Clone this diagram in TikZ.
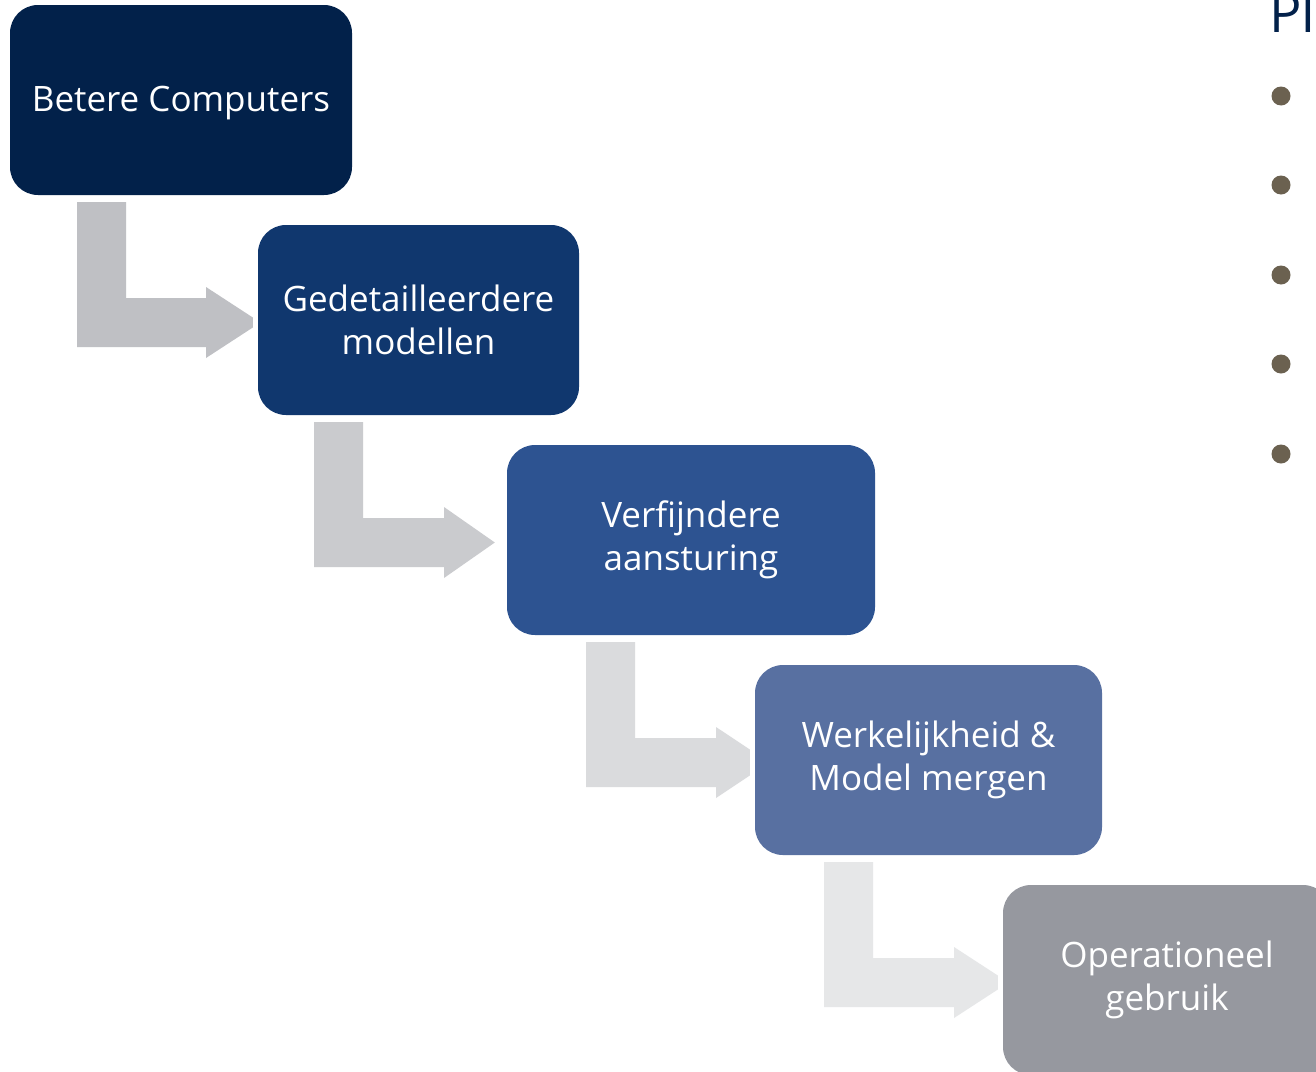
\documentclass[tikz,border=0pt]{standalone}
\usepackage{fontspec}
\setmainfont{Open Sans}
\usetikzlibrary{calc}

\definecolor{boxA}{HTML}{02214A}
\definecolor{boxB}{HTML}{10376E}
\definecolor{boxC}{HTML}{2D5391}
\definecolor{boxD}{HTML}{5870A1}
\definecolor{boxE}{HTML}{96989F}
\definecolor{flowA}{HTML}{BFC0C4}
\definecolor{flowB}{HTML}{CACBCE}
\definecolor{flowC}{HTML}{DADBDD}
\definecolor{flowD}{HTML}{E6E7E8}
\definecolor{dotcol}{HTML}{6B6150}
\definecolor{headcol}{HTML}{02214A}

\tikzset{
  stepbox/.style={rounded corners=28pt, minimum height=190pt, inner sep=0pt,
    text=white, align=center, font=\fontsize{35}{43}\selectfont},
  dotmark/.style={circle, fill=dotcol, minimum size=19pt, inner sep=0pt},
}

% Bent block arrow from the bottom of #1 to the left side of #2.
% #3 colour, #4 stem left x, #5 head base x, #6 gap before target, #7 half-height of the flat tip
\newcommand\bentflow[7]{%
  \fill[#3] let \p1=(#1.south), \p2=(#2.west), \n1={\y2-2.5pt} in
    (#4pt,{\y1-7pt}) -- ({#4pt+49pt},{\y1-7pt}) -- ({#4pt+49pt},{\n1+24.5pt})
    -- (#5pt,{\n1+24.5pt}) -- (#5pt,{\n1+35.5pt}) -- ({\x2-#6pt},{\n1+#7pt})
    -- ({\x2-#6pt},{\n1-#7pt}) -- (#5pt,{\n1-35.5pt}) -- (#5pt,{\n1-24.5pt})
    -- (#4pt,{\n1-24.5pt}) -- cycle;}

\begin{document}
\begin{tikzpicture}[x=1pt,y=-1pt]
  \useasboundingbox (0,0) rectangle (1316,1071);
  \clip (0,0) rectangle (1316,1071);
  \fill[white] (0,0) rectangle (1316,1071);

  % process steps
  \node[stepbox, fill=boxA, minimum width=342pt] (b1) at (181,100) {\raisebox{-3pt}[\height][\depth]{Betere Computers}};
  \node[stepbox, fill=boxB, minimum width=321pt] (b2) at (418.5,320) {Gedetailleerdere\\modellen};
  \node[stepbox, fill=boxC, minimum width=368pt] (b3) at (691,540) {Verfijndere\\aansturing};
  \node[stepbox, fill=boxD, minimum width=347pt] (b4) at (928.5,760) {Werkelijkheid \&\\Model mergen};
  \node[stepbox, fill=boxE, minimum width=328pt] (b5) at (1167,980) {Operationeel\\gebruik};

  % bent arrows between the steps
  \bentflow{b1}{b2}{flowA}{77}{206}{5}{5}
  \bentflow{b2}{b3}{flowB}{314}{444}{12}{0}
  \bentflow{b3}{b4}{flowC}{586}{716}{5}{13}
  \bentflow{b4}{b5}{flowD}{824}{954}{5}{7}

  % heading and bullet list on the right
  \node[anchor=base west, inner sep=0pt, text=headcol, font=\fontsize{54}{60}\selectfont] (head) at (1269,32) {Pl};
  \foreach \i/\yy in {1/96,2/185,3/275,4/364,5/454}
    \node[dotmark] (dot\i) at (1281,\yy) {};
\end{tikzpicture}
\end{document}
